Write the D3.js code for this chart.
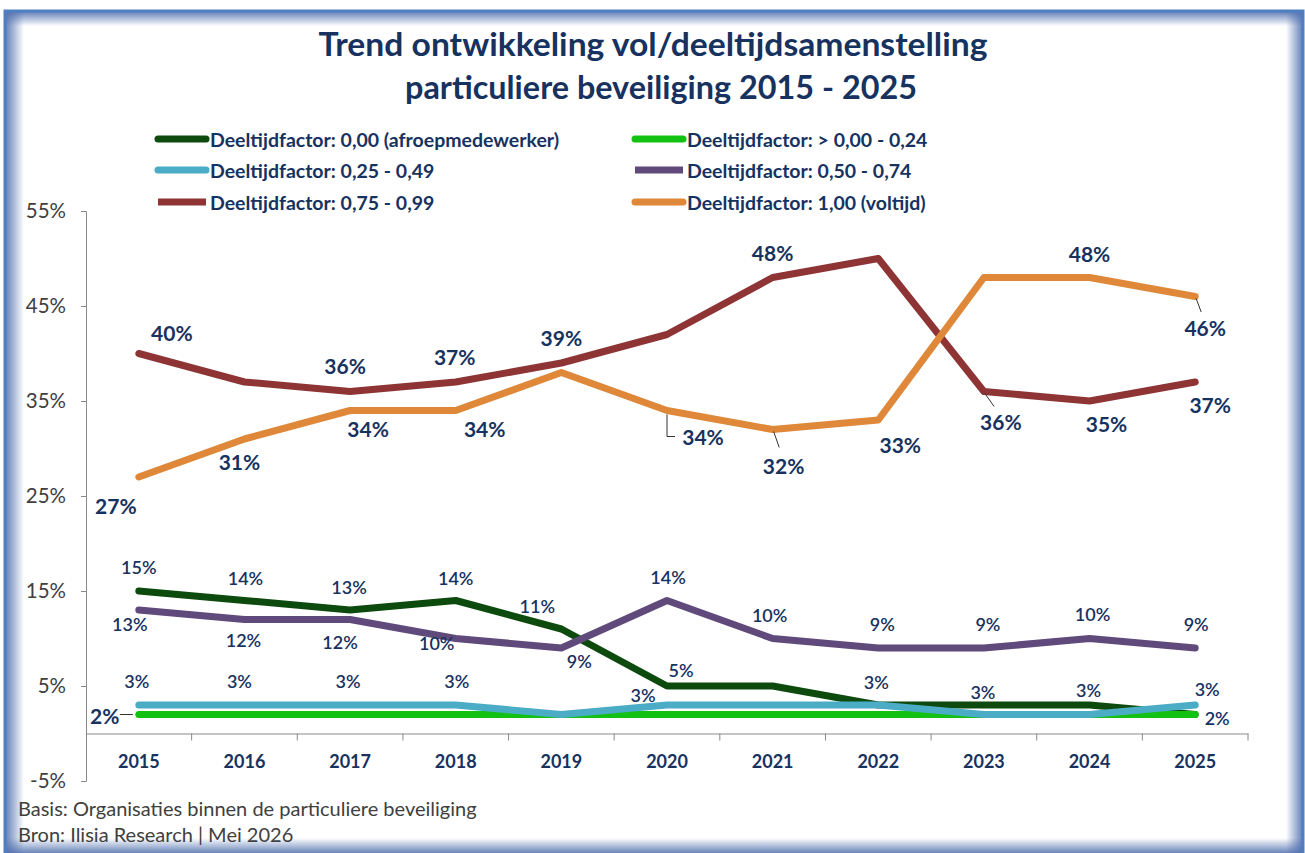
<!DOCTYPE html>
<html>
<head>
<meta charset="utf-8">
<script src="https://cdn.jsdelivr.net/npm/d3@7"></script>
<style>
  html, body { margin: 0; padding: 0; background: #fff; }
  svg { display: block; }
</style>
</head>
<body>
<div id="chart"></div>
<script>
// jaren (categorie-as)
var years = ["2015", "2016", "2017", "2018", "2019", "2020", "2021", "2022", "2023", "2024", "2025"];

// reeksen, percentages
var afroep   = [15, 14, 13, 14, 11, 5, 5, 3, 3, 3, 2];
var f000_024 = [2, 2, 2, 2, 2, 2, 2, 2, 2, 2, 2];
var f025_049 = [3, 3, 3, 3, 2, 3, 3, 3, 2, 2, 3];
var f050_074 = [13, 12, 12, 10, 9, 14, 10, 9, 9, 10, 9];
var f075_099 = [40, 37, 36, 37, 39, 42, 48, 50, 36, 35, 37];
var voltijd  = [27, 31, 34, 34, 38, 34, 32, 33, 48, 48, 46];

var seriesNames = [
  "Deeltijdfactor: 0,00 (afroepmedewerker)",
  "Deeltijdfactor: > 0,00 - 0,24",
  "Deeltijdfactor: 0,25 - 0,49",
  "Deeltijdfactor: 0,50 - 0,74",
  "Deeltijdfactor: 0,75 - 0,99",
  "Deeltijdfactor: 1,00 (voltijd)"
];

var yTicks = [-5, 5, 15, 25, 35, 45, 55];

var W = 1305, H = 853;
var FONT = "Lato, 'Open Sans', sans-serif";
var NAVY = "#17325f";

var colors = ["#0d4a0d", "#12c112", "#4bacc6", "#604a7b", "#8e3434", "#e0883a"];

// label plaatsing per reeks: [dx, dy] of null (geen label), optioneel leader
var labelPos = [
  [[0,-24],[1,-23],[-1,-23],[0,-23],[-24,-23],[14,-16],null,[-2,-23],[-1,-13],[-1,-15],[22,3]],
  [[-34,1,"h"],null,null,null,null,null,null,null,null,null,null],
  [[-2,-24],[-5,-24],[-2,-24],[1,-24],null,[-24,-10],null,null,null,null,[12,-16]],
  [[-9,14],[-1,20],[-10,22],[-19,4],[18,13],[1,-24],[-3,-24],[4,-24],[4,-24],[3,-25],[1,-24]],
  [[33,-21],null,[-5,-26],[-1,-26],[0,-26],null,[0,-25],null,[17,30,"s"],[17,22],[15,22]],
  [[-23,28],[-5,22],[18,18],[29,18],null,[36,26,"e"],[11,36,"s"],[22,24],null,[0,-24],[10,31,"s"]]
];
var bigLabel = [false, true, false, false, true, true];

var svg = d3.select("#chart").append("svg")
  .attr("width", W).attr("height", H);

var defs = svg.append("defs");
function grad(id, x1, y1, x2, y2) {
  var g = defs.append("linearGradient").attr("id", id)
    .attr("x1", x1).attr("y1", y1).attr("x2", x2).attr("y2", y2);
  g.append("stop").attr("offset", "0%").attr("stop-color", "#4f6fae").attr("stop-opacity", 0.85);
  g.append("stop").attr("offset", "100%").attr("stop-color", "#4f6fae").attr("stop-opacity", 0);
}
grad("gl", 0, 0, 1, 0);
grad("gr", 1, 0, 0, 0);
grad("gt", 0, 0, 0, 1);
grad("gb", 0, 1, 0, 0);

svg.append("rect").attr("width", W).attr("height", H).attr("fill", "#fff");

// kader met binnenschaduw
svg.append("rect").attr("x", 6).attr("y", 12).attr("width", 18).attr("height", H - 12).attr("fill", "url(#gl)");
svg.append("rect").attr("x", 1286).attr("y", 12).attr("width", 16).attr("height", H - 12).attr("fill", "url(#gr)");
svg.append("rect").attr("x", 6).attr("y", 12).attr("width", 1296).attr("height", 14).attr("fill", "url(#gt)");
svg.append("rect").attr("x", 6).attr("y", 838).attr("width", 1296).attr("height", 15).attr("fill", "url(#gb)");
svg.append("rect").attr("x", 5).attr("y", 11).attr("width", 1298).attr("height", 850)
  .attr("fill", "none").attr("stroke", "#4f7fc0").attr("stroke-width", 3);

// titel
var title = svg.append("g").attr("text-anchor", "middle")
  .attr("font-family", FONT).attr("font-weight", "bold")
  .attr("font-size", 33).attr("fill", NAVY);
title.append("text").attr("x", 653).attr("y", 56)
  .attr("textLength", 669).attr("lengthAdjust", "spacingAndGlyphs")
  .text("Trend ontwikkeling vol/deeltijdsamenstelling");
title.append("text").attr("x", 661).attr("y", 99)
  .attr("textLength", 512).attr("lengthAdjust", "spacingAndGlyphs")
  .text("particuliere beveiliging 2015 - 2025");

// schalen
var x = d3.scaleBand().domain(years).range([86, 1248]).padding(0);
var y = d3.scaleLinear().domain([-5, 55]).range([781, 211]);
function cx(i) { return x(years[i]) + x.bandwidth() / 2; }

// y-as
var yAxis = svg.append("g").attr("transform", "translate(86,0)")
  .call(d3.axisLeft(y).tickValues(yTicks).tickFormat(function(d) { return d + "%"; })
    .tickSize(5).tickPadding(15));
yAxis.select(".domain").attr("stroke", "#8a8a8a");
yAxis.selectAll(".tick line").attr("stroke", "#8a8a8a");
yAxis.selectAll("text").attr("font-family", FONT).attr("font-size", 20.5).attr("fill", "#404040");

// x-as op 0%
var y0 = y(0);
var xAxis = svg.append("g").attr("transform", "translate(0," + y0 + ")")
  .call(d3.axisBottom(x).tickSize(0).tickPadding(22));
xAxis.select(".domain").attr("stroke", "#8a8a8a");
xAxis.selectAll("text").attr("font-family", FONT).attr("font-weight", "bold")
  .attr("font-size", 18).attr("fill", NAVY);
var bounds = years.map(function(d) { return x(d); }).concat([x.range()[1]]);
svg.append("g").selectAll("line").data(bounds.slice(1)).join("line")
  .attr("x1", function(d) { return d; }).attr("x2", function(d) { return d; })
  .attr("y1", y0).attr("y2", y0 + 7).attr("stroke", "#8a8a8a");

// lijnen
var allSeries = [afroep, f000_024, f025_049, f050_074, f075_099, voltijd];
var line = d3.line()
  .x(function(d, i) { return cx(i); })
  .y(function(d) { return y(d); });

svg.append("g").selectAll("path").data(allSeries).join("path")
  .attr("d", line)
  .attr("fill", "none")
  .attr("stroke", function(d, i) { return colors[i]; })
  .attr("stroke-width", 7)
  .attr("stroke-linejoin", "round")
  .attr("stroke-linecap", "round");

// data labels
var lblG = svg.append("g");
allSeries.forEach(function(vals, s) {
  vals.forEach(function(v, i) {
    var p = labelPos[s][i];
    if (!p) return;
    var px = cx(i), py = y(v);
    var lx = px + p[0], ly = py + p[1];
    if (p[2] === "h") {
      lblG.append("line").attr("x1", px - 6).attr("x2", lx + 15)
        .attr("y1", py).attr("y2", py).attr("stroke", "#333").attr("stroke-width", 1);
    } else if (p[2] === "e") {
      lblG.append("path")
        .attr("d", "M" + px + "," + (py + 4) + "V" + ly + "H" + (lx - 28))
        .attr("fill", "none").attr("stroke", "#333").attr("stroke-width", 1);
    } else if (p[2] === "s") {
      lblG.append("line").attr("x1", px + 1).attr("y1", py + 2)
        .attr("x2", px + p[0] * 0.6).attr("y2", py + p[1] * 0.5)
        .attr("stroke", "#333").attr("stroke-width", 1);
    }
    var big = bigLabel[s] && !(s === 1 && i > 0);
    lblG.append("text")
      .attr("x", lx).attr("y", ly)
      .attr("text-anchor", "middle").attr("dominant-baseline", "central")
      .attr("font-family", FONT)
      .attr("font-weight", big ? "bold" : 600)
      .attr("font-size", big ? 21 : 18)
      .attr("fill", NAVY)
      .text(v + "%");
  });
});

// legenda
var legX = [155, 632], legY = [139, 170, 202];
var leg = svg.append("g");
seriesNames.forEach(function(name, i) {
  var col = i % 2, row = Math.floor(i / 2);
  var lx = legX[col], ly = legY[row];
  leg.append("line").attr("x1", lx + 3).attr("x2", lx + 51).attr("y1", ly).attr("y2", ly)
    .attr("stroke", colors[i]).attr("stroke-width", 7)
    .attr("stroke-linecap", (i === 3 || i === 4) ? "butt" : "round");
  leg.append("text").attr("x", lx + 55).attr("y", ly)
    .attr("dominant-baseline", "central")
    .attr("font-family", FONT).attr("font-weight", "bold").attr("font-size", 19.5)
    .attr("fill", NAVY).text(name);
});

// bron
var foot = svg.append("g").attr("font-family", FONT).attr("font-size", 20).attr("fill", "#404040");
foot.append("text").attr("x", 18).attr("y", 816).text("Basis: Organisaties binnen de particuliere beveiliging");
foot.append("text").attr("x", 18).attr("y", 842).text("Bron: Ilisia Research | Mei 2026");
</script>
</body>
</html>
